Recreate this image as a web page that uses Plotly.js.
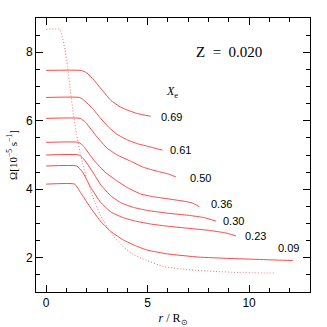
<!DOCTYPE html>
<html>
<head>
<meta charset="utf-8">
<script src="https://cdn.plot.ly/plotly-3.0.1.min.js"></script>
<style>
  html, body { margin: 0; padding: 0; background: #fff; }
  #omega-plot { width: 327px; height: 327px; }
</style>
</head>
<body>
<div id="omega-plot"></div>
<script>
// radial profiles of angular velocity, one per central H fraction X_e
const xe069 = [0, 1.73, 2.0, 2.35, 2.75, 3.18, 3.6, 4.0, 4.5, 5.15];
const om069 = [7.47, 7.47, 7.4, 7.19, 6.9, 6.6, 6.42, 6.31, 6.21, 6.13];

const xe061 = [0, 1.65, 1.9, 2.3, 2.68, 3.1, 3.5, 4.0, 4.5, 5.1, 5.73];
const om061 = [6.68, 6.68, 6.58, 6.35, 6.07, 5.8, 5.6, 5.44, 5.33, 5.24, 5.14];

const xe050 = [0, 1.68, 1.95, 2.5, 3.0, 3.5, 4.16, 4.8, 5.5, 6.0, 6.39];
const om050 = [6.07, 6.07, 5.95, 5.53, 5.2, 5.0, 4.82, 4.64, 4.52, 4.45, 4.36];

const xe036 = [0, 1.6, 1.85, 2.35, 2.9, 3.5, 4.0, 4.66, 5.3, 6.0, 6.8, 7.2, 7.55];
const om036 = [5.37, 5.37, 5.25, 4.85, 4.5, 4.24, 4.05, 3.86, 3.78, 3.72, 3.65, 3.6, 3.49];

const xe030 = [0, 1.63, 1.9, 2.3, 2.7, 3.2, 3.7, 4.3, 5.0, 6.0, 7.0, 7.8, 8.36];
const om030 = [5.0, 5.0, 4.85, 4.5, 4.12, 3.8, 3.6, 3.47, 3.38, 3.3, 3.24, 3.17, 3.07];

const xe023 = [0, 1.5, 1.8, 2.2, 2.68, 3.2, 3.8, 4.4, 5.2, 6.0, 7.0, 8.0, 8.8, 9.35];
const om023 = [4.68, 4.68, 4.5, 4.05, 3.62, 3.33, 3.17, 3.07, 2.98, 2.92, 2.86, 2.8, 2.73, 2.64];

const xe009 = [0, 1.41, 1.7, 2.2, 2.7, 3.2, 3.8, 4.4, 5.0, 6.0, 7.5, 9.0, 10.5, 11.5, 12.15];
const om009 = [4.15, 4.15, 3.9, 3.45, 3.05, 2.76, 2.52, 2.35, 2.22, 2.11, 2.02, 1.98, 1.95, 1.93, 1.92];

// dotted profile
const xeDot = [0, 0.67, 0.8, 0.95, 1.05, 1.2, 1.35, 1.5, 1.66, 1.8, 2.0, 2.35, 2.7, 3.2, 3.7, 4.2, 4.7, 5.8, 7.0, 8.3, 9.5, 11.3];
const omDot = [8.67, 8.67, 8.45, 8.0, 7.6, 6.85, 6.15, 5.6, 5.1, 4.75, 4.3, 3.7, 3.2, 2.72, 2.38, 2.13, 1.98, 1.74, 1.65, 1.6, 1.57, 1.55];

const curveLabels = ['0.69', '0.61', '0.50', '0.36', '0.30', '0.23', '0.09'];
const labelX = [6.2, 6.64, 7.62, 8.64, 9.21, 10.3, 11.93];
const labelY = [6.12, 5.16, 4.34, 3.58, 3.08, 2.63, 2.29];

const initPlot = () => {

  const red = 'rgb(255,70,70)';
  const xs = [xe069, xe061, xe050, xe036, xe030, xe023, xe009];
  const ys = [om069, om061, om050, om036, om030, om023, om009];

  const data = xs.map((x, i) => ({
    x: x,
    y: ys[i],
    mode: 'lines',
    name: curveLabels[i],
    line: { color: red, width: 1, shape: 'spline', smoothing: 0.4 },
    hoverinfo: 'skip'
  }));

  data.push({
    x: xeDot,
    y: omDot,
    mode: 'lines',
    name: 'dot',
    line: { color: 'rgb(255,110,110)', width: 1, dash: '1px,2px', shape: 'spline', smoothing: 0.4 },
    hoverinfo: 'skip'
  });

  const annotations = curveLabels.map((t, i) => ({
    x: labelX[i], y: labelY[i], text: t, showarrow: false,
    xanchor: 'center', yanchor: 'middle',
    font: { family: 'Liberation Sans, sans-serif', size: 11, color: '#000' }
  }));

  annotations.push({
    x: 6.22, y: 6.85, text: '<i>X</i><sub>e</sub>', showarrow: false,
    font: { family: 'Liberation Serif, serif', size: 12, color: '#000' }
  });
  annotations.push({
    x: 9.0, y: 8.0, text: 'Z  =  0.020', showarrow: false,
    font: { family: 'Liberation Serif, serif', size: 15, color: '#000' }
  });

  const axisBase = {
    showgrid: false,
    zeroline: false,
    showline: true,
    linecolor: '#000',
    linewidth: 1,
    mirror: 'ticks',
    ticks: 'inside',
    ticklen: 7,
    tickcolor: '#000',
    tickfont: { family: 'Liberation Sans, sans-serif', size: 12, color: '#000' }
  };

  const layout = {
    width: 327,
    height: 327,
    margin: { l: 36, r: 17, t: 18, b: 35 },
    plot_bgcolor: '#fff',
    paper_bgcolor: '#fff',
    showlegend: false,
    xaxis: Object.assign({}, axisBase, {
      range: [-0.5, 13],
      tick0: 0,
      dtick: 5,
      minor: { ticks: 'inside', ticklen: 4, dtick: 1, tick0: 0, tickcolor: '#000' },
      title: {
        text: '<i>r</i> / R<sub>\u2299</sub>',
        standoff: 4,
        font: { family: 'Liberation Serif, serif', size: 12, color: '#000' }
      }
    }),
    yaxis: Object.assign({}, axisBase, {
      range: [1, 9],
      tick0: 0,
      dtick: 2,
      minor: { ticks: 'inside', ticklen: 4, dtick: 0.5, tick0: 0, tickcolor: '#000' },
      title: {
        text: '\u03A9[10<sup>\u22125</sup> s<sup>\u22121</sup>]',
        standoff: 6,
        font: { family: 'Liberation Serif, serif', size: 11, color: '#000' }
      }
    }),
    annotations: annotations
  };

  const config = { responsive: false, displayModeBar: false, staticPlot: true };

  Plotly.newPlot('omega-plot', data, layout, config);
};

initPlot();
</script>
</body>
</html>
